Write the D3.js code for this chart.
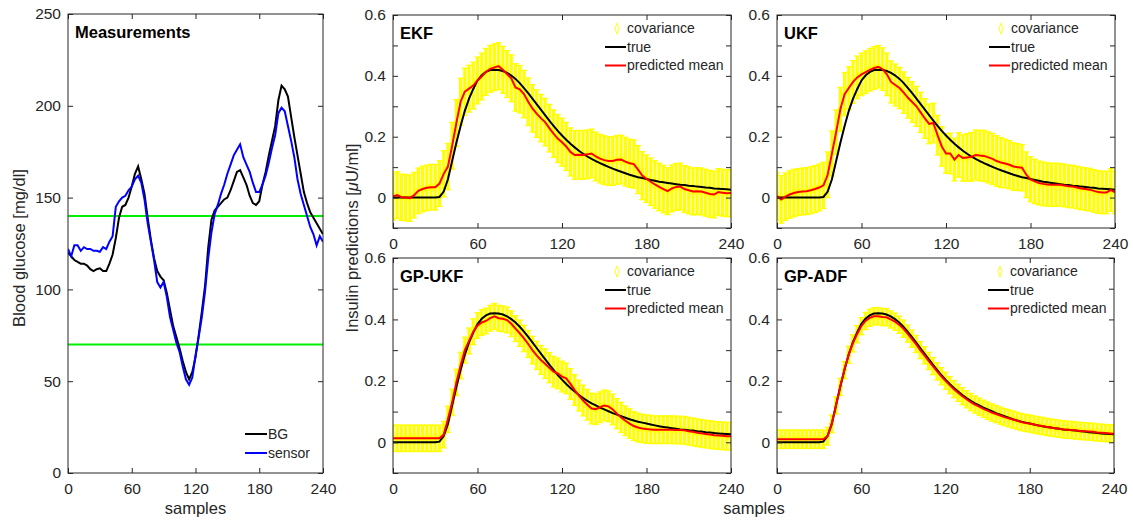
<!DOCTYPE html>
<html>
<head>
<meta charset="utf-8">
<script src="https://cdn.jsdelivr.net/npm/d3@7"></script>
<style>
  body { margin: 0; background: #fff; }
  svg { display: block; font-family: "Liberation Sans", Arial, Helvetica, sans-serif; }
  .axis path { display: none; }
  .axis line { stroke: #262626; }
  .axis text { fill: #262626; font-size: 15.5px; font-family: "Liberation Sans", Arial, sans-serif; }
</style>
</head>
<body>
<svg id="chart" width="1133" height="522"></svg>
<script>
/* Glucose measurements + four insulin filters (EKF, UKF, GP-UKF, GP-ADF).
   Values read off the original figure, one every 3 samples. */
(function () {
  "use strict";

  // ---- data -------------------------------------------------------------
  const SAMPLES = d3.range(0, 241, 3);          // 0, 3, ... 240
  const X_TICKS = [0, 60, 120, 180, 240];
  const GLU_TICKS = [0, 50, 100, 150, 200, 250];
  const INS_TICKS = [-0.1, 0, 0.1, 0.2, 0.3, 0.4, 0.5, 0.6];
  const INS_LABELS = [0, 0.2, 0.4, 0.6];
  const GLU_LIMITS = [140, 70];

  const BG = [
    120, 118, 116, 115, 114, 114, 113, 111, 110, 111,
    111.5, 110, 110, 114, 119, 128, 139, 145, 146, 150,
    156, 163, 167, 160, 152, 139, 127, 117, 110, 107,
    105, 98, 89, 80, 74, 68, 61, 55, 51, 55,
    63, 75, 88, 102, 123, 138, 143, 145, 147, 149,
    150, 154, 159, 164, 165, 161, 157, 151, 147, 146,
    148, 157, 164, 173, 181, 189, 203, 211, 209, 205,
    194, 183, 173, 163, 153, 147, 142, 139, 136, 133,
    130];
  const SENSOR = [
    122, 118, 124, 124, 121, 123, 122, 122, 121, 121,
    120.5, 123, 122, 126, 129, 145, 148, 150, 151, 154,
    156, 160, 162, 158, 149, 136, 126, 116, 104, 101,
    104, 96, 85, 78, 71, 66, 58, 51, 48, 52,
    64, 74, 85, 99, 117, 131, 141, 146, 152, 157,
    163, 168, 173, 176, 179, 172, 168, 164, 158, 153,
    153, 157, 162, 169, 177, 184, 196, 199, 197, 189,
    181, 172, 160, 152, 146, 140, 134, 130, 124, 129,
    126];

  const TRUE_INS = [
    0, 0, 0, 0, 0, 0, 0, 0, 0, 0,
    0, 0.002, 0.02, 0.06, 0.12, 0.18, 0.235, 0.285, 0.325, 0.357,
    0.385, 0.402, 0.413, 0.419, 0.42, 0.419, 0.416, 0.41, 0.401, 0.39,
    0.376, 0.36, 0.343, 0.325, 0.307, 0.289, 0.271, 0.253, 0.236, 0.219,
    0.204, 0.19, 0.177, 0.165, 0.154, 0.144, 0.135, 0.127, 0.12, 0.113,
    0.107, 0.101, 0.095, 0.09, 0.085, 0.08, 0.075, 0.071, 0.067, 0.064,
    0.061, 0.058, 0.055, 0.052, 0.05, 0.048, 0.046, 0.044, 0.042, 0.041,
    0.039, 0.038, 0.036, 0.035, 0.033, 0.032, 0.03, 0.029, 0.028, 0.027,
    0.026];

  const EKF_MEAN = [
    0.003, 0.008, 0.001, 0, -0.002, 0.008, 0.022, 0.028, 0.032, 0.034,
    0.034, 0.046, 0.078, 0.102, 0.17, 0.245, 0.315, 0.348, 0.358, 0.368,
    0.385, 0.398, 0.413, 0.423, 0.428, 0.432, 0.42, 0.406, 0.392, 0.362,
    0.356, 0.34, 0.315, 0.293, 0.276, 0.261, 0.248, 0.228, 0.21, 0.194,
    0.182, 0.168, 0.15, 0.14, 0.141, 0.14, 0.142, 0.145, 0.135, 0.128,
    0.123, 0.12, 0.12, 0.124, 0.125, 0.118, 0.113, 0.11, 0.092, 0.072,
    0.062, 0.052, 0.043, 0.035, 0.028, 0.021, 0.03, 0.035, 0.036, 0.028,
    0.024, 0.02, 0.021, 0.02, 0.016, 0.012, 0.01, 0.018, 0.016, 0.014,
    0.015];
  const EKF_STD = [
    0.077, 0.077, 0.076, 0.076, 0.076, 0.075, 0.075, 0.075, 0.075, 0.075,
    0.075, 0.075, 0.076, 0.076, 0.077, 0.077, 0.077, 0.077, 0.077, 0.077,
    0.077, 0.077, 0.077, 0.077, 0.077, 0.077, 0.077, 0.077, 0.077, 0.078,
    0.078, 0.078, 0.078, 0.078, 0.078, 0.078, 0.078, 0.078, 0.078, 0.079,
    0.079, 0.079, 0.079, 0.08, 0.08, 0.08, 0.08, 0.08, 0.08, 0.08,
    0.08, 0.08, 0.08, 0.08, 0.08, 0.08, 0.079, 0.079, 0.079, 0.079,
    0.078, 0.078, 0.078, 0.078, 0.078, 0.077, 0.077, 0.077, 0.077, 0.077,
    0.077, 0.077, 0.077, 0.077, 0.077, 0.077, 0.077, 0.077, 0.077, 0.077,
    0.077];

  const UKF_MEAN = [
    0.005, -0.006, 0.003, 0.01, 0.015, 0.018, 0.02, 0.021, 0.024, 0.028,
    0.033, 0.04, 0.075, 0.145, 0.215, 0.29, 0.34, 0.36, 0.38, 0.395,
    0.405, 0.412, 0.42, 0.426, 0.43, 0.422, 0.405, 0.38, 0.37, 0.36,
    0.345, 0.328, 0.314, 0.3, 0.28, 0.26, 0.242, 0.245, 0.205, 0.168,
    0.145, 0.145, 0.125, 0.14, 0.13, 0.132, 0.134, 0.14, 0.138, 0.137,
    0.132, 0.127, 0.12, 0.115, 0.112, 0.108, 0.102, 0.1, 0.098, 0.075,
    0.06, 0.053, 0.048, 0.045, 0.043, 0.042, 0.042, 0.042, 0.04, 0.037,
    0.036, 0.033, 0.03, 0.028, 0.026, 0.022, 0.018, 0.017, 0.017, 0.025,
    0.017];
  const UKF_STD = [
    0.078, 0.078, 0.078, 0.078, 0.078, 0.077, 0.077, 0.077, 0.077, 0.077,
    0.077, 0.076, 0.075, 0.074, 0.073, 0.072, 0.071, 0.07, 0.07, 0.07,
    0.07, 0.07, 0.07, 0.07, 0.07, 0.07, 0.07, 0.069, 0.069, 0.068,
    0.068, 0.067, 0.067, 0.066, 0.066, 0.065, 0.065, 0.065, 0.065, 0.065,
    0.065, 0.067, 0.07, 0.073, 0.076, 0.078, 0.08, 0.082, 0.083, 0.084,
    0.084, 0.084, 0.083, 0.082, 0.08, 0.079, 0.078, 0.077, 0.076, 0.075,
    0.074, 0.073, 0.072, 0.072, 0.071, 0.071, 0.071, 0.07, 0.07, 0.07,
    0.07, 0.07, 0.07, 0.07, 0.07, 0.07, 0.07, 0.07, 0.07, 0.07,
    0.07];

  const GPUKF_MEAN = [
    0.013, 0.013, 0.013, 0.013, 0.013, 0.013, 0.013, 0.013, 0.013, 0.013,
    0.013, 0.013, 0.025, 0.075, 0.13, 0.195, 0.25, 0.3, 0.33, 0.36,
    0.38, 0.39, 0.395, 0.404, 0.41, 0.404, 0.402, 0.398, 0.386, 0.37,
    0.355, 0.338, 0.32, 0.3, 0.283, 0.268, 0.256, 0.243, 0.23, 0.224,
    0.214, 0.208, 0.19, 0.17, 0.152, 0.136, 0.122, 0.11, 0.108, 0.114,
    0.12, 0.117, 0.107, 0.093, 0.081, 0.07, 0.061, 0.053, 0.048, 0.045,
    0.043, 0.042, 0.041, 0.041, 0.041, 0.041, 0.041, 0.04, 0.04, 0.039,
    0.036, 0.034, 0.031, 0.029, 0.027, 0.025, 0.023, 0.022, 0.021, 0.02,
    0.02];
  const GPUKF_STD = [
    0.043, 0.043, 0.043, 0.043, 0.043, 0.043, 0.043, 0.043, 0.043, 0.043,
    0.043, 0.043, 0.043, 0.043, 0.043, 0.043, 0.043, 0.042, 0.042, 0.042,
    0.042, 0.042, 0.042, 0.042, 0.042, 0.042, 0.042, 0.042, 0.042, 0.042,
    0.043, 0.043, 0.044, 0.045, 0.046, 0.047, 0.048, 0.049, 0.05, 0.05,
    0.05, 0.05, 0.05, 0.05, 0.05, 0.05, 0.05, 0.05, 0.05, 0.05,
    0.05, 0.05, 0.05, 0.049, 0.049, 0.048, 0.048, 0.047, 0.047, 0.046,
    0.046, 0.046, 0.045, 0.045, 0.045, 0.045, 0.045, 0.045, 0.045, 0.045,
    0.045, 0.045, 0.045, 0.045, 0.045, 0.045, 0.045, 0.045, 0.045, 0.045,
    0.045];

  const GPADF_MEAN = [
    0.01, 0.01, 0.01, 0.01, 0.01, 0.01, 0.01, 0.01, 0.01, 0.01,
    0.01, 0.01, 0.02, 0.06, 0.12, 0.18, 0.235, 0.285, 0.322, 0.352,
    0.378, 0.395, 0.405, 0.41, 0.41, 0.408, 0.407, 0.4, 0.393, 0.383,
    0.37, 0.354, 0.337, 0.32, 0.3, 0.283, 0.265, 0.248, 0.231, 0.215,
    0.2, 0.186, 0.173, 0.161, 0.15, 0.14, 0.131, 0.123, 0.116, 0.109,
    0.103, 0.097, 0.092, 0.087, 0.082, 0.078, 0.074, 0.07, 0.066, 0.063,
    0.061, 0.058, 0.055, 0.053, 0.05, 0.048, 0.046, 0.044, 0.042, 0.041,
    0.04, 0.038, 0.037, 0.036, 0.035, 0.034, 0.032, 0.031, 0.03, 0.029,
    0.028];
  const GPADF_STD = [
    0.03, 0.03, 0.03, 0.03, 0.03, 0.03, 0.03, 0.03, 0.03, 0.03,
    0.03, 0.03, 0.029, 0.029, 0.028, 0.028, 0.028, 0.028, 0.028, 0.028,
    0.028, 0.028, 0.028, 0.028, 0.028, 0.028, 0.028, 0.028, 0.028, 0.028,
    0.028, 0.028, 0.028, 0.028, 0.028, 0.028, 0.028, 0.028, 0.028, 0.028,
    0.028, 0.028, 0.028, 0.028, 0.028, 0.028, 0.028, 0.028, 0.028, 0.028,
    0.028, 0.028, 0.028, 0.028, 0.028, 0.028, 0.028, 0.028, 0.028, 0.028,
    0.028, 0.028, 0.028, 0.028, 0.028, 0.028, 0.028, 0.028, 0.028, 0.028,
    0.028, 0.028, 0.028, 0.028, 0.028, 0.028, 0.028, 0.028, 0.028, 0.028,
    0.028];

  // ---- styling / layout ---------------------------------------------------
  const INK = "#262626", YEL = "#ffff00", RED = "#ff0000", BLUE = "#0000ff", GREEN = "#00ee00";
  const svg = d3.select("#chart");

  const PANELS = [
    { title: "EKF",    x0: 393, x1: 731,  y0: 15,  y1: 228, mean: EKF_MEAN,   std: EKF_STD },
    { title: "UKF",    x0: 777, x1: 1115, y0: 15,  y1: 228, mean: UKF_MEAN,   std: UKF_STD },
    { title: "GP-UKF", x0: 393, x1: 731,  y0: 258, y1: 473, mean: GPUKF_MEAN, std: GPUKF_STD },
    { title: "GP-ADF", x0: 777, x1: 1114, y0: 258, y1: 473, mean: GPADF_MEAN, std: GPADF_STD },
  ];

  let clipN = 0;
  function clipFor(g, w, h) {
    const id = "clip" + (clipN++);
    g.append("clipPath").attr("id", id).append("rect").attr("width", w).attr("height", h);
    return `url(#${id})`;
  }

  function frame(g, x, y, w, h, yTicks, yFmt) {
    g.append("g").attr("class", "axis").attr("transform", `translate(0,${h})`)
      .call(d3.axisBottom(x).tickValues(X_TICKS).tickSize(-5).tickPadding(10));
    g.append("g").attr("class", "axis")
      .call(d3.axisTop(x).tickValues(X_TICKS).tickSize(-5).tickFormat(""));
    g.append("g").attr("class", "axis")
      .call(d3.axisLeft(y).tickValues(yTicks).tickSize(-5).tickPadding(7).tickFormat(yFmt));
    g.append("g").attr("class", "axis").attr("transform", `translate(${w},0)`)
      .call(d3.axisRight(y).tickValues(yTicks).tickSize(-5).tickFormat(""));
    g.append("rect").attr("width", w).attr("height", h)
      .attr("fill", "none").attr("stroke", INK).attr("stroke-width", 1);
  }

  function title(g, txt) {
    g.append("text").attr("x", 7).attr("y", 18.5).attr("dy", "0.35em")
      .attr("font-size", 16.5).attr("font-weight", "bold").attr("fill", "#000").text(txt);
  }

  // ---- measurements panel ---------------------------------------------------
  (function () {
    const x0 = 68, x1 = 323, y0 = 14, y1 = 473, w = x1 - x0, h = y1 - y0;
    const g = svg.append("g").attr("transform", `translate(${x0},${y0})`);
    const x = d3.scaleLinear().domain([0, 240]).range([0, w]);
    const y = d3.scaleLinear().domain([0, 250]).range([h, 0]);
    const plot = g.append("g").attr("clip-path", clipFor(g, w, h));

    plot.selectAll(".lim").data(GLU_LIMITS).join("line")
      .attr("x1", 0).attr("x2", w).attr("y1", (v) => y(v)).attr("y2", (v) => y(v))
      .attr("stroke", GREEN).attr("stroke-width", 2);

    const line = (arr) => d3.line().x((d, i) => x(SAMPLES[i])).y((d) => y(d))(arr);
    plot.append("path").attr("d", line(BG)).attr("fill", "none").attr("stroke", "#000").attr("stroke-width", 2);
    plot.append("path").attr("d", line(SENSOR)).attr("fill", "none").attr("stroke", BLUE).attr("stroke-width", 2);

    frame(g, x, y, w, h, GLU_TICKS, d3.format("d"));
    title(g, "Measurements");

    // legend
    const lg = g.append("g");
    [["BG", "#000"], ["sensor", BLUE]].forEach(([lab, c], i) => {
      const ly = 420 + i * 19;
      lg.append("line").attr("x1", 177).attr("x2", 199).attr("y1", ly).attr("y2", ly)
        .attr("stroke", c).attr("stroke-width", 2);
      lg.append("text").attr("x", 200).attr("y", ly).attr("dy", "0.35em")
        .attr("font-size", 14).attr("fill", INK).text(lab);
    });

    g.append("text").attr("x", w / 2).attr("y", h + 35).attr("dy", "0.35em")
      .attr("text-anchor", "middle").attr("font-size", 16.5).attr("fill", INK).text("samples");
  })();

  svg.append("text").attr("transform", "translate(19,248) rotate(-90)")
    .attr("text-anchor", "middle").attr("dy", "0.35em").attr("font-size", 16.5).attr("fill", INK)
    .text("Blood glucose [mg/dl]");

  // ---- insulin panels -------------------------------------------------------
  PANELS.forEach((p) => {
    const w = p.x1 - p.x0, h = p.y1 - p.y0;
    const g = svg.append("g").attr("transform", `translate(${p.x0},${p.y0})`);
    const x = d3.scaleLinear().domain([0, 240]).range([0, w]);
    const y = d3.scaleLinear().domain([-0.1, 0.6]).range([h, 0]);
    const plot = g.append("g").attr("clip-path", clipFor(g, w, h));
    const idx = d3.range(p.mean.length);

    // covariance error bars
    const eb = plot.append("g").attr("stroke", YEL).attr("fill", "none");
    eb.selectAll(".bar").data(idx).join("line")
      .attr("x1", (i) => x(SAMPLES[i])).attr("x2", (i) => x(SAMPLES[i]))
      .attr("y1", (i) => y(p.mean[i] - p.std[i])).attr("y2", (i) => y(p.mean[i] + p.std[i]))
      .attr("stroke-width", 3.2);
    [-1, 1].forEach((sgn) => {
      eb.selectAll(".cap" + sgn).data(idx).join("line")
        .attr("x1", (i) => x(SAMPLES[i]) - 3).attr("x2", (i) => x(SAMPLES[i]) + 3)
        .attr("y1", (i) => y(p.mean[i] + sgn * p.std[i])).attr("y2", (i) => y(p.mean[i] + sgn * p.std[i]))
        .attr("stroke-width", 1.3);
    });
    eb.selectAll(".mk").data(idx).join("path")
      .attr("d", d3.symbol(d3.symbolDiamond, 28))
      .attr("transform", (i) => `translate(${x(SAMPLES[i])},${y(p.mean[i])}) scale(0.8,1.2)`)
      .attr("stroke-width", 1);

    const line = (arr) => d3.line().x((d, i) => x(SAMPLES[i])).y((d) => y(d))(arr);
    plot.append("path").attr("d", line(TRUE_INS)).attr("fill", "none").attr("stroke", "#000").attr("stroke-width", 2);
    plot.append("path").attr("d", line(p.mean)).attr("fill", "none").attr("stroke", RED).attr("stroke-width", 2);

    frame(g, x, y, w, h, INS_TICKS, (v) => {
      const hit = INS_LABELS.find((l) => Math.abs(l - v) < 1e-9);
      return hit === undefined ? "" : String(hit);
    });
    title(g, p.title);

    // legend
    const tx = w - 104;
    const rows = [13.5, 32, 50.5];
    g.append("path").attr("d", d3.symbol(d3.symbolDiamond, 22))
      .attr("transform", `translate(${tx - 10},${rows[0]}) scale(0.8,1.2)`)
      .attr("fill", "none").attr("stroke", YEL).attr("stroke-width", 1);
    [["#000", rows[1]], [RED, rows[2]]].forEach(([c, ly]) => {
      g.append("line").attr("x1", tx - 22).attr("x2", tx - 1).attr("y1", ly).attr("y2", ly)
        .attr("stroke", c).attr("stroke-width", 2);
    });
    ["covariance", "true", "predicted mean"].forEach((lab, i) => {
      g.append("text").attr("x", tx).attr("y", rows[i]).attr("dy", "0.35em")
        .attr("font-size", 14).attr("fill", INK).text(lab);
    });
  });

  svg.append("text").attr("x", 754).attr("y", 508).attr("dy", "0.35em")
    .attr("text-anchor", "middle").attr("font-size", 16.5).attr("fill", INK).text("samples");

  const yl = svg.append("text").attr("transform", "translate(352,238) rotate(-90)")
    .attr("text-anchor", "middle").attr("dy", "0.35em").attr("font-size", 16.5).attr("fill", INK);
  yl.append("tspan").text("Insulin predictions [");
  yl.append("tspan").attr("font-style", "italic").text("\u03bc");
  yl.append("tspan").text("U/ml]");
})();
</script>
</body>
</html>
